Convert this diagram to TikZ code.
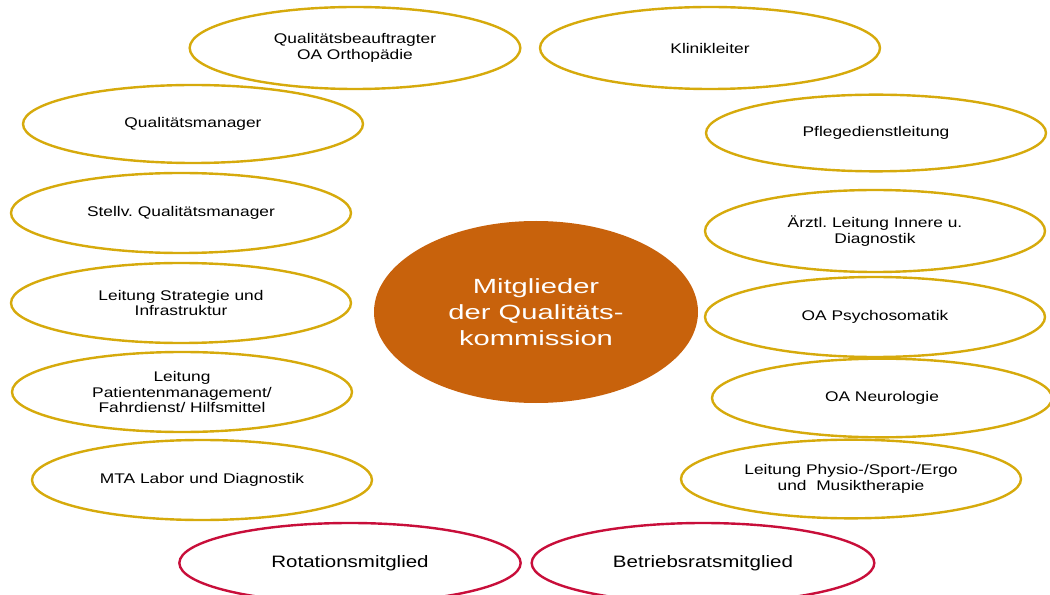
\documentclass[tikz,border=0pt]{standalone}
\usepackage{fontspec}
\setmainfont{Liberation Sans}[FakeStretch=1.24]
\newfontfamily\bigfont{Liberation Sans}[FakeStretch=1.42]
\usetikzlibrary{shapes.geometric}
\frenchspacing
\definecolor{goldline}{RGB}{214,170,12}
\definecolor{redline}{RGB}{200,14,58}
\definecolor{centerfill}{RGB}{200,98,12}
\tikzset{
  member/.style={ellipse, draw=goldline, line width=1.8pt, fill=white,
    minimum width=255pt, minimum height=60pt, inner sep=0pt, align=center,
    font=\frenchspacing\fontsize{10.5}{11.5}\selectfont, text=black},
  guest/.style={member, draw=redline, font=\fontsize{12.4}{13.5}\selectfont},
  core/.style={ellipse, fill=centerfill, draw=none, minimum width=243pt,
    minimum height=136.5pt, inner sep=0pt, align=center, text=white,
    font=\bigfont\fontsize{15.4}{19.5}\selectfont}
}
\begin{document}
\begin{tikzpicture}[x=0.75pt,y=-0.75pt]
\useasboundingbox (0,0) rectangle (1050,595);
\clip (0,0) rectangle (1050,595);
\node[core] (c) at (536,312) {Mitglieder\\der Qualitäts-\\kommission};
\node[member, minimum width=248pt, minimum height=61.5pt] (qb) at (355,48) {Qualitätsbeauftragter\\OA Orthopädie};
\node[member, minimum height=61.5pt] (kl) at (710,48) {Klinikleiter};
\node[member, minimum height=58.5pt] (qm) at (193,124) {Qualitätsmanager};
\node[member, minimum height=57.5pt] (pd) at (876,133) {Pflegedienstleitung};
\node[member] (sq) at (181,213) {Stellv. Qualitätsmanager};
\node[member] (ls) at (181,303) {Leitung Strategie und\\Infrastruktur};
\node[member] (lp) at (182,392) {Leitung\\Patientenmanagement/\\Fahrdienst/ Hilfsmittel};
\node[member] (mta) at (202,480) {MTA Labor und Diagnostik};
\node[member, minimum height=61.5pt] (al) at (875,231) {Ärztl. Leitung Innere u.\\Diagnostik};
\node[member] (ps) at (875,317) {OA Psychosomatik};
\node[member, minimum height=59pt] (ne) at (882,398) {OA Neurologie};
\node[member, minimum height=59pt] (ph) at (851,479) {Leitung Physio-/Sport-/Ergo\\und\ \ Musiktherapie};
\node[guest, minimum width=256pt] (ro) at (350,563) {Rotationsmitglied};
\node[guest, minimum width=257pt] (br) at (703,563) {Betriebsratsmitglied};
\end{tikzpicture}
\end{document}
